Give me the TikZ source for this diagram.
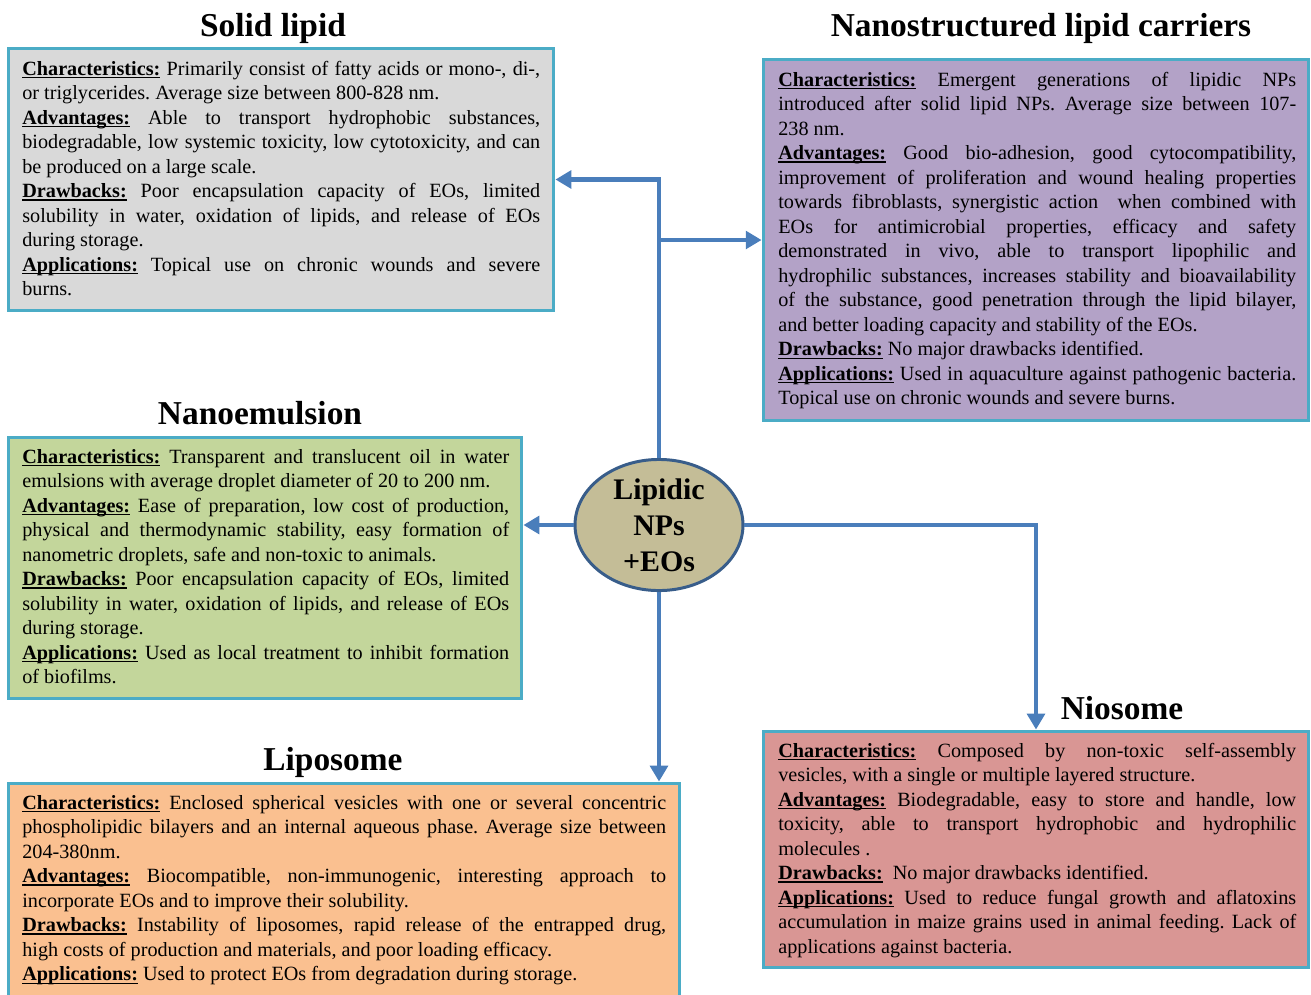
\documentclass[tikz,border=0pt]{standalone}
\usepackage{fontspec}
\setmainfont{Liberation Serif}
\usepackage{graphicx}
\usetikzlibrary{arrows.meta,shapes.geometric}
\definecolor{bordc}{HTML}{4BACC6}
\definecolor{arrc}{HTML}{4A7EBB}
\definecolor{ellc}{HTML}{385D8A}
\definecolor{ellf}{HTML}{C4BD97}
\definecolor{slfill}{HTML}{D9D9D9}
\definecolor{nlcfill}{HTML}{B3A2C7}
\definecolor{nefill}{HTML}{C3D69B}
\definecolor{lipfill}{HTML}{FAC090}
\definecolor{niofill}{HTML}{D99694}
\frenchspacing
\newlength\LW
\newbox\LBox
\newbox\HBox
\newcommand\hdr[1]{\setbox\HBox=\hbox{\bfseries #1}\rlap{\rule[-1.8pt]{\wd\HBox}{0.7pt}}\box\HBox}
\newcommand\jline[1]{\setbox\LBox=\hbox{#1}\ifdim\wd\LBox>\LW\hbox{\resizebox{\LW}{\height}{\box\LBox}}\else\hbox to\LW{#1}\fi}
\newcommand\eline[1]{\setbox\LBox=\hbox{#1}\ifdim\wd\LBox>\LW\hbox{\resizebox{\LW}{\height}{\box\LBox}}\else\hbox to\LW{#1\hfil}\fi}
\tikzset{
  boxnode/.style={draw=bordc, line width=1.7pt, inner sep=0pt},
  titlenode/.style={font=\fontsize{19}{22}\selectfont\bfseries, anchor=base, inner sep=0pt},
  bodynode/.style={anchor=base west, inner sep=0pt, font=\fontsize{11.5}{13.95}\selectfont\frenchspacing},
  arr/.style={draw=arrc, line width=2.4pt, -{Triangle[length=9pt,width=10pt]}}
}
\begin{document}
\begin{tikzpicture}[x=0.02cm,y=-0.02cm]
\useasboundingbox (0,0) rectangle (1311,994);
\clip (0,0) rectangle (1311,994);
% boxes
\node[boxnode, fill=slfill, minimum width=10.92cm, minimum height=5.26cm] (sl) at (281,179.5) {};
\node[boxnode, fill=nlcfill, minimum width=10.92cm, minimum height=7.24cm] (nlc) at (1036,240) {};
\node[boxnode, fill=nefill, minimum width=10.28cm, minimum height=5.24cm] (ne) at (265,568) {};
\node[boxnode, fill=lipfill, minimum width=13.44cm, minimum height=4.54cm] (lip) at (344,896.5) {};
\node[boxnode, fill=niofill, minimum width=10.92cm, minimum height=4.74cm] (nio) at (1036,849.5) {};
% titles
\node[titlenode] (tsl) at (273,36) {Solid lipid};
\node[titlenode] (tnlc) at (1041,36) {Nanostructured lipid carriers};
\node[titlenode] (tne) at (260,424) {Nanoemulsion};
\node[titlenode] (tlip) at (333,770) {Liposome};
\node[titlenode] (tnio) at (1122,719) {Niosome};
% body texts
\node[bodynode] (bsl) at (22,75) {\vtop{\LW=10.36cm
\jline{\hdr{Characteristics:} Primarily consist of fatty acids or mono-, di-,}
\eline{or triglycerides. Average size between 800-828 nm.}
\jline{\hdr{Advantages:} Able to transport hydrophobic substances,}
\jline{biodegradable, low systemic toxicity, low cytotoxicity, and can}
\eline{be produced on a large scale.}
\jline{\hdr{Drawbacks:} Poor encapsulation capacity of EOs, limited}
\jline{solubility in water, oxidation of lipids, and release of EOs}
\eline{during storage.}
\jline{\hdr{Applications:} Topical use on chronic wounds and severe}
\eline{burns.}}};
\node[bodynode] (bnlc) at (778,86) {\vtop{\LW=10.36cm
\jline{\hdr{Characteristics:} Emergent generations of lipidic NPs}
\jline{introduced after solid lipid NPs. Average size between 107-}
\eline{238 nm.}
\jline{\hdr{Advantages:} Good bio-adhesion, good cytocompatibility,}
\jline{improvement of proliferation and wound healing properties}
\jline{towards fibroblasts, synergistic action\ \ when combined with}
\jline{EOs for antimicrobial properties, efficacy and safety}
\jline{demonstrated in vivo, able to transport lipophilic and}
\jline{hydrophilic substances, increases stability and bioavailability}
\jline{of the substance, good penetration through the lipid bilayer,}
\eline{and better loading capacity and stability of the EOs.}
\eline{\hdr{Drawbacks:} No major drawbacks identified.}
\jline{\hdr{Applications:} Used in aquaculture against pathogenic bacteria.}
\eline{Topical use on chronic wounds and severe burns.}}};
\node[bodynode] (bne) at (22,463) {\vtop{\LW=9.74cm
\jline{\hdr{Characteristics:} Transparent and translucent oil in water}
\eline{emulsions with average droplet diameter of 20 to 200 nm.}
\jline{\hdr{Advantages:} Ease of preparation, low cost of production,}
\jline{physical and thermodynamic stability, easy formation of}
\eline{nanometric droplets, safe and non-toxic to animals.}
\jline{\hdr{Drawbacks:} Poor encapsulation capacity of EOs, limited}
\jline{solubility in water, oxidation of lipids, and release of EOs}
\eline{during storage.}
\jline{\hdr{Applications:} Used as local treatment to inhibit formation}
\eline{of biofilms.}}};
\node[bodynode] (blip) at (22,809) {\vtop{\LW=12.88cm
\jline{\hdr{Characteristics:} Enclosed spherical vesicles with one or several concentric}
\jline{phospholipidic bilayers and an internal aqueous phase. Average size between}
\eline{204-380nm.}
\jline{\hdr{Advantages:} Biocompatible, non-immunogenic, interesting approach to}
\eline{incorporate EOs and to improve their solubility.}
\jline{\hdr{Drawbacks:} Instability of liposomes, rapid release of the entrapped drug,}
\eline{high costs of production and materials, and poor loading efficacy.}
\eline{\hdr{Applications:} Used to protect EOs from degradation during storage.}}};
\node[bodynode] (bnio) at (778,757) {\vtop{\LW=10.36cm
\jline{\hdr{Characteristics:} Composed by non-toxic self-assembly}
\eline{vesicles, with a single or multiple layered structure.}
\jline{\hdr{Advantages:} Biodegradable, easy to store and handle, low}
\jline{toxicity, able to transport hydrophobic and hydrophilic}
\eline{molecules .}
\eline{\hdr{Drawbacks:}\ \ No major drawbacks identified.}
\jline{\hdr{Applications:} Used to reduce fungal growth and aflatoxins}
\jline{accumulation in maize grains used in animal feeding. Lack of}
\eline{applications against bacteria.}}};
% centre
\node[ellipse, draw=ellc, fill=ellf, line width=1.7pt, minimum width=3.36cm, minimum height=2.6cm, inner sep=0pt, align=center, font=\fontsize{17}{20.4}\selectfont\bfseries] (c) at (659,525) {Lipidic\\NPs\\+EOs};
% connectors
\draw[arr] (c.north) |- (sl.east);
\draw[arr] (c.north |- nlc.west) -- (nlc.west);
\draw[arr] (c.west) -- (c.west -| ne.east);
\draw[arr] (c.south) -- (c.south |- lip.north);
\draw[arr] (c.east) -| (nio.north);
\end{tikzpicture}
\end{document}
